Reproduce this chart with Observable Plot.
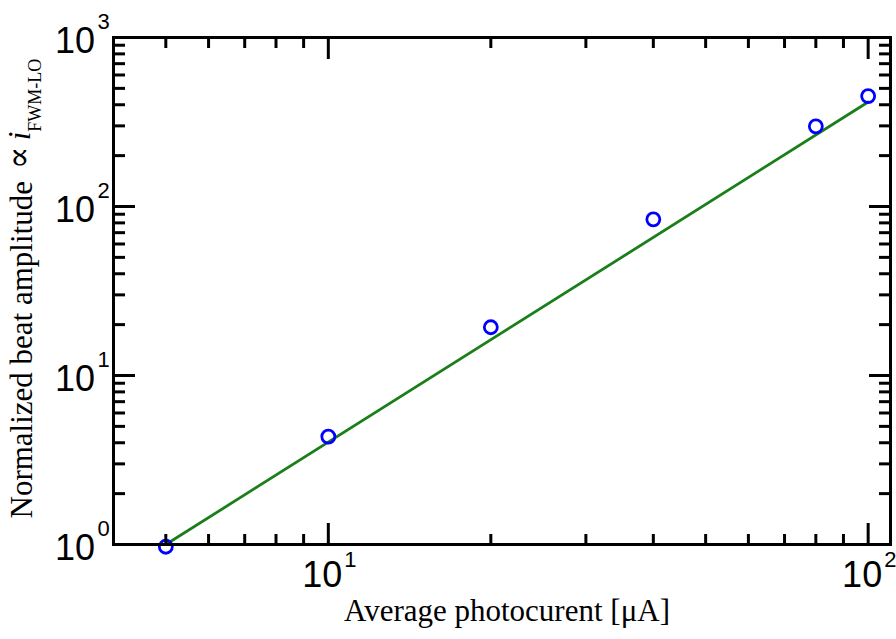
<!DOCTYPE html>
<html><head><meta charset="utf-8">
<script src="https://cdn.jsdelivr.net/npm/d3@7"></script>
<script src="https://cdn.jsdelivr.net/npm/@observablehq/plot@0.6"></script>
<style>body{margin:0;background:#fff;overflow:hidden}</style>
</head><body><div id="chart"></div>
<script>
// Measured points
const photocurrent = [5, 10, 20, 40, 80, 100];
const beatAmplitude = [0.97, 4.35, 19.3, 84, 298, 450];
// Fitted line (slope ~2 on log-log)
const fitX = [5, 100];
const fitY = [1, 415];
// Axis ticks
const xMajor = [10, 100];
const xMinor = [5, 6, 7, 8, 9, 20, 30, 40, 50, 60, 70, 80, 90];
const yMajor = [1, 10, 100, 1000];
const yMinor = [2,3,4,5,6,7,8,9,20,30,40,50,60,70,80,90,200,300,400,500,600,700,800,900];
const xLabel = "Average photocurent [μA]";
const yLabelMain = "Normalized beat amplitude ";
const yLabelSym = "∝";
const yLabelVar = "i";
const yLabelSub = "FWM-LO";

const pts = photocurrent.map((x, i) => ({x, y: beatAmplitude[i]}));
const fit = fitX.map((x, i) => ({x, y: fitY[i]}));
const sans = "Liberation Sans, Arial, sans-serif";
const serif = "Liberation Serif, Times New Roman, serif";
const fullY = yLabelMain + yLabelSym + " " + yLabelVar + yLabelSub;

const plot = Plot.plot({
  width: 896, height: 639,
  marginLeft: 113, marginRight: 6, marginTop: 37, marginBottom: 95,
  x: {type: "log", domain: [4, 110]},
  y: {type: "log", domain: [1, 1000]},
  style: {background: "white", color: "black"},
  marks: [
    Plot.line(fit, {x: "x", y: "y", stroke: "#1a7f1a", strokeWidth: 2.8}),
    Plot.dot(pts, {x: "x", y: "y", r: 6.5, stroke: "#0000ff", strokeWidth: 2.8, fill: "none"}),
    // inside ticks on all four sides
    Plot.axisX({anchor: "bottom", ticks: xMajor, tickSize: -21, tickFormat: () => "", strokeWidth: 3, label: null}),
    Plot.axisX({anchor: "bottom", ticks: xMinor, tickSize: -10, tickFormat: () => "", strokeWidth: 3, label: null}),
    Plot.axisX({anchor: "top", ticks: xMajor, tickSize: -21, tickFormat: () => "", strokeWidth: 3, label: null}),
    Plot.axisX({anchor: "top", ticks: xMinor, tickSize: -10, tickFormat: () => "", strokeWidth: 3, label: null}),
    Plot.axisY({anchor: "left", ticks: yMajor, tickSize: -22, tickFormat: () => "", strokeWidth: 3, label: null}),
    Plot.axisY({anchor: "left", ticks: yMinor, tickSize: -12, tickFormat: () => "", strokeWidth: 3, label: null}),
    Plot.axisY({anchor: "right", ticks: yMajor, tickSize: -22, tickFormat: () => "", strokeWidth: 3, label: null}),
    Plot.axisY({anchor: "right", ticks: yMinor, tickSize: -12, tickFormat: () => "", strokeWidth: 3, label: null}),
    Plot.frame({stroke: "black", strokeWidth: 3}),
    // tick labels 10^n
    Plot.text(xMajor, {x: d => d, frameAnchor: "bottom", text: () => "10", textAnchor: "end", dx: 14, dy: 42.5, fontSize: 36, fontFamily: sans}),
    Plot.text(xMajor, {x: d => d, frameAnchor: "bottom", text: d => String(Math.round(Math.log10(d))), textAnchor: "start", dx: 16, dy: 22, fontSize: 22, fontFamily: sans}),
    Plot.text(yMajor, {y: d => d, frameAnchor: "left", text: () => "10", textAnchor: "end", dx: -18.5, dy: 3.5, fontSize: 36, fontFamily: sans}),
    Plot.text(yMajor, {y: d => d, frameAnchor: "left", text: d => String(Math.round(Math.log10(d))), textAnchor: "start", dx: -16, dy: -16, fontSize: 22, fontFamily: sans}),
    // axis titles
    Plot.text([xLabel], {frameAnchor: "bottom", text: d => d, dx: 5, dy: 76, fontSize: 31, fontFamily: serif}),
    Plot.text([fullY], {frameAnchor: "bottom-left", text: d => d, rotate: -90, textAnchor: "start", dx: -82, dy: -26, fontSize: 31, fontFamily: serif})
  ]
});

// Rich formatting of the y-axis title (italic variable, subscript)
d3.select(plot).selectAll("text").filter(function() { return this.textContent === fullY; }).each(function() {
  const t = d3.select(this);
  t.text(null);
  t.append("tspan").text(yLabelMain);
  t.append("tspan").attr("dy", -2).attr("font-size", 34).attr("dx", 4).attr("font-family", "DejaVu Serif, serif").text(yLabelSym);
  t.append("tspan").attr("font-style", "italic").attr("dx", 6).text(yLabelVar);
  t.append("tspan").attr("font-size", 18).attr("dy", 11).text(yLabelSub);
});
document.getElementById("chart").appendChild(plot);
</script>
</body></html>
